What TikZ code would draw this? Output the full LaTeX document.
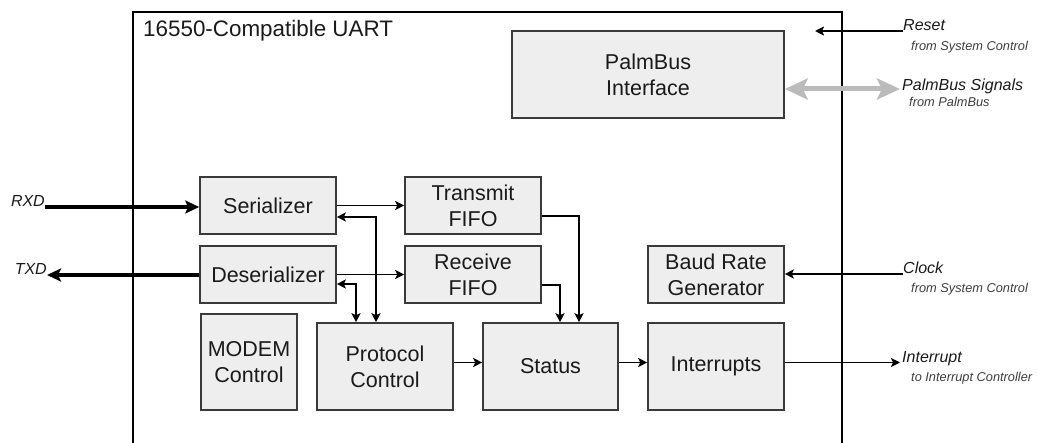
\documentclass[tikz,border=0pt]{standalone}
\usepackage{fontspec}
\setmainfont{Liberation Sans}
\usetikzlibrary{arrows.meta}
\definecolor{boxfill}{HTML}{EEEEEE}
\definecolor{boxdraw}{HTML}{3A3A3A}
\definecolor{txt}{HTML}{1A1A1A}
\definecolor{busgray}{HTML}{BBBBBB}
\tikzset{
  blk/.style={draw=boxdraw, fill=boxfill, line width=1.6pt, text=txt, align=center,
    font=\fontsize{21.5}{26}\selectfont, inner sep=0pt},
  arr/.style={line width=1.9pt, -{Stealth[length=9pt,width=9pt,inset=2pt]}},
  biarr/.style={line width=1.9pt, {Stealth[length=9pt,width=9pt,inset=2pt]}-{Stealth[length=9pt,width=9pt,inset=2pt]}},
  bigarr/.style={line width=3.4pt, -{Stealth[length=14pt,width=13pt,inset=3pt]}},
  busarr/.style={draw=busgray, line width=5pt, {Stealth[length=23pt,width=21pt,inset=5pt]}-{Stealth[length=23pt,width=21pt,inset=5pt]}},
  sig/.style={font=\fontsize{16}{18}\selectfont\itshape, text=txt, inner sep=0pt},
  sub/.style={font=\fontsize{12.8}{14}\selectfont\itshape, text=txt!85, inner sep=0pt},
}
\begin{document}
\begin{tikzpicture}[x=1pt,y=-1pt]
\useasboundingbox (0,0) rectangle (1038,443);
% outer UART box (open at the bottom edge)
\draw[line width=1.8pt] (133,443) -- (133,12) -- (842,12) -- (842,443);
\node[anchor=west, text=txt, font=\fontsize{22.4}{26}\selectfont, inner sep=0pt] (title) at (143,31) {16550-Compatible UART};

% blocks
\node[blk, minimum width=272pt, minimum height=87pt] (pb) at (648,74.5) {PalmBus\\Interface};
\node[blk, minimum width=136pt, minimum height=57pt] (ser) at (268,205.5) {Serializer};
\node[blk, minimum width=136pt, minimum height=57pt] (des) at (268,274.5) {Deserializer};
\node[blk, minimum width=136pt, minimum height=57pt] (tf) at (473,205.5) {Transmit\\FIFO};
\node[blk, minimum width=136pt, minimum height=57pt] (rf) at (473,274.5) {Receive\\FIFO};
\node[blk, minimum width=136pt, minimum height=57pt] (brg) at (716,274.5) {Baud Rate\\Generator};
\node[blk, minimum width=96pt, minimum height=96pt] (mc) at (249,362) {MODEM\\Control};
\node[blk, minimum width=136pt, minimum height=87pt] (pc) at (385,366.5) {Protocol\\Control};
\node[blk, minimum width=135pt, minimum height=87pt] (st) at (550.5,366.5) {Status};
\node[blk, minimum width=136pt, minimum height=87pt] (ir) at (716,366.5) {Interrupts};

% external coordinates
\coordinate (rxd) at (45,207);
\coordinate (txd) at (47,275);
\coordinate (rst) at (903,31);
\coordinate (rstend) at (815,31);
\coordinate (pbs) at (900,89);
\coordinate (clk) at (903,274);
\coordinate (intr) at (900,362.5);

% external labels
\node[sig, anchor=base east] (lrxd) at (rxd) {RXD};
\node[sig, anchor=base east] (ltxd) at (txd) {TXD};
\node[sig, anchor=base west] (lrst) at (rst) {Reset};
\node[sub, anchor=base west] (srst) at (911,51) {from System Control};
\node[sig, anchor=base west] (lpbs) at (902,91) {PalmBus Signals};
\node[sub, anchor=base west] (spbs) at (909,107) {from PalmBus};
\node[sig, anchor=base west] (lclk) at (clk) {Clock};
\node[sub, anchor=base west] (sclk) at (911,293) {from System Control};
\node[sig, anchor=base west] (lint) at (902,362.5) {Interrupt};
\node[sub, anchor=base west] (sint) at (911,381) {to Interrupt Controller};

% connectors
\draw[bigarr] (rxd) -- (ser.west |- rxd);
\draw[bigarr] (des.west |- txd) -- (txd);
\draw[arr] (rst) -- (rstend);
\draw[busarr] ([yshift=-14.5pt]pb.east) -- (pbs);
\draw[arr] (clk) -- (brg.east |- clk);
\draw[arr] ([yshift=4pt]ir.east) -- (intr);

\draw[arr] (ser.east) -- (tf.west);
\draw[arr] (des.east) -- (rf.west);
\draw[biarr] ([yshift=-11.5pt]ser.east) -| ([xshift=-9pt]pc.north);
\draw[biarr] ([yshift=-9.5pt]des.east) -| ([xshift=-29pt]pc.north);
\draw[arr] ([yshift=-10.5pt]tf.east) -| ([xshift=28.5pt]st.north);
\draw[arr] ([yshift=-10.5pt]rf.east) -| ([xshift=9.5pt]st.north);
\draw[arr] ([yshift=4pt]pc.east) -- ([yshift=4pt]st.west);
\draw[arr] ([yshift=4pt]st.east) -- ([yshift=4pt]ir.west);
\end{tikzpicture}
\end{document}
